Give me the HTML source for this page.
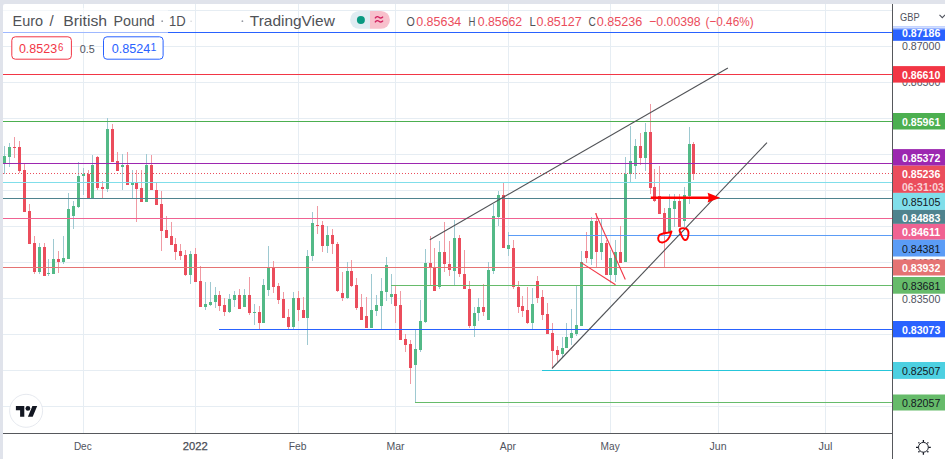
<!DOCTYPE html>
<html><head><meta charset="utf-8"><title>EURGBP</title>
<style>
html,body{margin:0;padding:0;background:#e0e3eb;}
body{width:945px;height:459px;overflow:hidden;position:relative;font-family:"Liberation Sans", sans-serif;}
svg{position:absolute;left:0;top:0;display:block;}
text{font-family:"Liberation Sans", sans-serif;}
</style></head><body>
<svg width="945" height="459" viewBox="0 0 945 459">
<defs>
<clipPath id="pane"><rect x="3" y="4" width="889" height="429"/></clipPath>
<linearGradient id="gbpfade" x1="0" y1="0" x2="0" y2="1">
<stop offset="0" stop-color="#fff" stop-opacity="1"/>
<stop offset="0.3" stop-color="#fff" stop-opacity="0.85"/>
<stop offset="1" stop-color="#fff" stop-opacity="0"/>
</linearGradient>
</defs>
<path d="M3 6 Q3 4 5 4 H945 V459 H3 Z" fill="#ffffff"/>

<g shape-rendering="crispEdges">
<rect x="3" y="10" width="889" height="1" fill="#e6edf3"/>
<rect x="3" y="46" width="889" height="1" fill="#e6edf3"/>
<rect x="3" y="82" width="889" height="1" fill="#e6edf3"/>
<rect x="3" y="118" width="889" height="1" fill="#e6edf3"/>
<rect x="3" y="154" width="889" height="1" fill="#e6edf3"/>
<rect x="3" y="190" width="889" height="1" fill="#e6edf3"/>
<rect x="3" y="226" width="889" height="1" fill="#e6edf3"/>
<rect x="3" y="262" width="889" height="1" fill="#e6edf3"/>
<rect x="3" y="298" width="889" height="1" fill="#e6edf3"/>
<rect x="3" y="334" width="889" height="1" fill="#e6edf3"/>
<rect x="3" y="370" width="889" height="1" fill="#e6edf3"/>
<rect x="3" y="406" width="889" height="1" fill="#e6edf3"/>
<rect x="83" y="4" width="1" height="429" fill="#e6edf3"/>
<rect x="195" y="4" width="1" height="429" fill="#e6edf3"/>
<rect x="298" y="4" width="1" height="429" fill="#e6edf3"/>
<rect x="395" y="4" width="1" height="429" fill="#e6edf3"/>
<rect x="508" y="4" width="1" height="429" fill="#e6edf3"/>
<rect x="610" y="4" width="1" height="429" fill="#e6edf3"/>
<rect x="718" y="4" width="1" height="429" fill="#e6edf3"/>
<rect x="825" y="4" width="1" height="429" fill="#e6edf3"/>
</g>
<g clip-path="url(#pane)" shape-rendering="crispEdges">
<rect x="4" y="146" width="1" height="10" fill="#9ec9d1"/>
<rect x="4" y="163" width="1" height="11" fill="#9ec9d1"/>
<rect x="3" y="156" width="3" height="7" fill="#53b987"/>
<rect x="9" y="143" width="1" height="4" fill="#9ec9d1"/>
<rect x="9" y="157" width="1" height="10" fill="#9ec9d1"/>
<rect x="8" y="147" width="3" height="10" fill="#53b987"/>
<rect x="14" y="137" width="1" height="10" fill="#f09aa3"/>
<rect x="14" y="148" width="1" height="10" fill="#f09aa3"/>
<rect x="13" y="147" width="3" height="1" fill="#eb4d5c"/>
<rect x="19" y="141" width="1" height="6" fill="#f09aa3"/>
<rect x="19" y="171" width="1" height="2" fill="#f09aa3"/>
<rect x="18" y="147" width="3" height="24" fill="#eb4d5c"/>
<rect x="24" y="164" width="1" height="6" fill="#f09aa3"/>
<rect x="23" y="170" width="3" height="42" fill="#eb4d5c"/>
<rect x="29" y="204" width="1" height="7" fill="#f09aa3"/>
<rect x="28" y="211" width="3" height="33" fill="#eb4d5c"/>
<rect x="34" y="236" width="1" height="7" fill="#f09aa3"/>
<rect x="34" y="272" width="1" height="2" fill="#f09aa3"/>
<rect x="33" y="243" width="3" height="29" fill="#eb4d5c"/>
<rect x="39" y="243" width="1" height="4" fill="#9ec9d1"/>
<rect x="39" y="272" width="1" height="2" fill="#9ec9d1"/>
<rect x="38" y="247" width="3" height="25" fill="#53b987"/>
<rect x="44" y="243" width="1" height="4" fill="#f09aa3"/>
<rect x="43" y="247" width="3" height="29" fill="#eb4d5c"/>
<rect x="48" y="259" width="1" height="14" fill="#9ec9d1"/>
<rect x="48" y="274" width="1" height="2" fill="#9ec9d1"/>
<rect x="47" y="273" width="3" height="1" fill="#53b987"/>
<rect x="53" y="239" width="1" height="20" fill="#9ec9d1"/>
<rect x="52" y="259" width="3" height="15" fill="#53b987"/>
<rect x="58" y="251" width="1" height="8" fill="#f09aa3"/>
<rect x="58" y="262" width="1" height="11" fill="#f09aa3"/>
<rect x="57" y="259" width="3" height="3" fill="#eb4d5c"/>
<rect x="63" y="236" width="1" height="22" fill="#9ec9d1"/>
<rect x="63" y="262" width="1" height="2" fill="#9ec9d1"/>
<rect x="62" y="258" width="3" height="4" fill="#53b987"/>
<rect x="68" y="193" width="1" height="16" fill="#9ec9d1"/>
<rect x="67" y="209" width="3" height="50" fill="#53b987"/>
<rect x="73" y="201" width="1" height="5" fill="#9ec9d1"/>
<rect x="73" y="216" width="1" height="13" fill="#9ec9d1"/>
<rect x="72" y="206" width="3" height="10" fill="#53b987"/>
<rect x="78" y="162" width="1" height="14" fill="#9ec9d1"/>
<rect x="78" y="207" width="1" height="1" fill="#9ec9d1"/>
<rect x="77" y="176" width="3" height="31" fill="#53b987"/>
<rect x="83" y="168" width="1" height="6" fill="#9ec9d1"/>
<rect x="83" y="176" width="1" height="19" fill="#9ec9d1"/>
<rect x="82" y="174" width="3" height="2" fill="#53b987"/>
<rect x="88" y="170" width="1" height="4" fill="#f09aa3"/>
<rect x="87" y="174" width="3" height="24" fill="#eb4d5c"/>
<rect x="92" y="155" width="1" height="10" fill="#9ec9d1"/>
<rect x="91" y="165" width="3" height="33" fill="#53b987"/>
<rect x="97" y="156" width="1" height="1" fill="#f09aa3"/>
<rect x="97" y="188" width="1" height="2" fill="#f09aa3"/>
<rect x="96" y="157" width="3" height="31" fill="#eb4d5c"/>
<rect x="102" y="181" width="1" height="6" fill="#f09aa3"/>
<rect x="102" y="189" width="1" height="9" fill="#f09aa3"/>
<rect x="101" y="187" width="3" height="2" fill="#eb4d5c"/>
<rect x="107" y="118" width="1" height="11" fill="#9ec9d1"/>
<rect x="107" y="189" width="1" height="3" fill="#9ec9d1"/>
<rect x="106" y="129" width="3" height="60" fill="#53b987"/>
<rect x="112" y="124" width="1" height="5" fill="#f09aa3"/>
<rect x="111" y="129" width="3" height="33" fill="#eb4d5c"/>
<rect x="117" y="152" width="1" height="9" fill="#f09aa3"/>
<rect x="116" y="161" width="3" height="10" fill="#eb4d5c"/>
<rect x="122" y="154" width="1" height="11" fill="#9ec9d1"/>
<rect x="122" y="167" width="1" height="23" fill="#9ec9d1"/>
<rect x="121" y="165" width="3" height="2" fill="#53b987"/>
<rect x="127" y="152" width="1" height="13" fill="#f09aa3"/>
<rect x="126" y="165" width="3" height="20" fill="#eb4d5c"/>
<rect x="132" y="170" width="1" height="13" fill="#9ec9d1"/>
<rect x="132" y="185" width="1" height="14" fill="#9ec9d1"/>
<rect x="131" y="183" width="3" height="2" fill="#53b987"/>
<rect x="136" y="170" width="1" height="13" fill="#f09aa3"/>
<rect x="136" y="189" width="1" height="33" fill="#f09aa3"/>
<rect x="135" y="183" width="3" height="6" fill="#eb4d5c"/>
<rect x="141" y="170" width="1" height="18" fill="#f09aa3"/>
<rect x="140" y="188" width="3" height="14" fill="#eb4d5c"/>
<rect x="146" y="154" width="1" height="11" fill="#9ec9d1"/>
<rect x="145" y="165" width="3" height="37" fill="#53b987"/>
<rect x="151" y="155" width="1" height="10" fill="#f09aa3"/>
<rect x="150" y="165" width="3" height="25" fill="#eb4d5c"/>
<rect x="156" y="183" width="1" height="7" fill="#f09aa3"/>
<rect x="155" y="190" width="3" height="15" fill="#eb4d5c"/>
<rect x="161" y="191" width="1" height="13" fill="#f09aa3"/>
<rect x="161" y="231" width="1" height="20" fill="#f09aa3"/>
<rect x="160" y="204" width="3" height="27" fill="#eb4d5c"/>
<rect x="166" y="216" width="1" height="14" fill="#f09aa3"/>
<rect x="165" y="230" width="3" height="8" fill="#eb4d5c"/>
<rect x="171" y="222" width="1" height="14" fill="#f09aa3"/>
<rect x="170" y="236" width="3" height="9" fill="#eb4d5c"/>
<rect x="175" y="238" width="1" height="6" fill="#f09aa3"/>
<rect x="175" y="252" width="1" height="8" fill="#f09aa3"/>
<rect x="174" y="244" width="3" height="8" fill="#eb4d5c"/>
<rect x="180" y="244" width="1" height="7" fill="#f09aa3"/>
<rect x="180" y="256" width="1" height="4" fill="#f09aa3"/>
<rect x="179" y="251" width="3" height="5" fill="#eb4d5c"/>
<rect x="185" y="250" width="1" height="5" fill="#f09aa3"/>
<rect x="185" y="275" width="1" height="1" fill="#f09aa3"/>
<rect x="184" y="255" width="3" height="20" fill="#eb4d5c"/>
<rect x="190" y="251" width="1" height="3" fill="#9ec9d1"/>
<rect x="190" y="275" width="1" height="9" fill="#9ec9d1"/>
<rect x="189" y="254" width="3" height="21" fill="#53b987"/>
<rect x="195" y="248" width="1" height="6" fill="#f09aa3"/>
<rect x="194" y="254" width="3" height="28" fill="#eb4d5c"/>
<rect x="200" y="266" width="1" height="15" fill="#f09aa3"/>
<rect x="199" y="281" width="3" height="26" fill="#eb4d5c"/>
<rect x="205" y="282" width="1" height="22" fill="#9ec9d1"/>
<rect x="205" y="307" width="1" height="3" fill="#9ec9d1"/>
<rect x="204" y="304" width="3" height="3" fill="#53b987"/>
<rect x="210" y="282" width="1" height="20" fill="#9ec9d1"/>
<rect x="210" y="305" width="1" height="1" fill="#9ec9d1"/>
<rect x="209" y="302" width="3" height="3" fill="#53b987"/>
<rect x="215" y="287" width="1" height="8" fill="#9ec9d1"/>
<rect x="215" y="302" width="1" height="6" fill="#9ec9d1"/>
<rect x="214" y="295" width="3" height="7" fill="#53b987"/>
<rect x="219" y="291" width="1" height="4" fill="#f09aa3"/>
<rect x="219" y="306" width="1" height="5" fill="#f09aa3"/>
<rect x="218" y="295" width="3" height="11" fill="#eb4d5c"/>
<rect x="224" y="298" width="1" height="7" fill="#f09aa3"/>
<rect x="224" y="312" width="1" height="4" fill="#f09aa3"/>
<rect x="223" y="305" width="3" height="7" fill="#eb4d5c"/>
<rect x="229" y="294" width="1" height="5" fill="#9ec9d1"/>
<rect x="229" y="312" width="1" height="1" fill="#9ec9d1"/>
<rect x="228" y="299" width="3" height="13" fill="#53b987"/>
<rect x="234" y="291" width="1" height="4" fill="#9ec9d1"/>
<rect x="234" y="300" width="1" height="7" fill="#9ec9d1"/>
<rect x="233" y="295" width="3" height="5" fill="#53b987"/>
<rect x="239" y="289" width="1" height="6" fill="#f09aa3"/>
<rect x="238" y="295" width="3" height="14" fill="#eb4d5c"/>
<rect x="244" y="289" width="1" height="6" fill="#9ec9d1"/>
<rect x="243" y="295" width="3" height="12" fill="#53b987"/>
<rect x="249" y="277" width="1" height="18" fill="#f09aa3"/>
<rect x="249" y="313" width="1" height="2" fill="#f09aa3"/>
<rect x="248" y="295" width="3" height="18" fill="#eb4d5c"/>
<rect x="254" y="304" width="1" height="8" fill="#9ec9d1"/>
<rect x="254" y="313" width="1" height="12" fill="#9ec9d1"/>
<rect x="253" y="312" width="3" height="1" fill="#53b987"/>
<rect x="259" y="306" width="1" height="6" fill="#f09aa3"/>
<rect x="259" y="323" width="1" height="6" fill="#f09aa3"/>
<rect x="258" y="312" width="3" height="11" fill="#eb4d5c"/>
<rect x="263" y="279" width="1" height="6" fill="#9ec9d1"/>
<rect x="262" y="285" width="3" height="38" fill="#53b987"/>
<rect x="268" y="246" width="1" height="21" fill="#9ec9d1"/>
<rect x="268" y="290" width="1" height="6" fill="#9ec9d1"/>
<rect x="267" y="267" width="3" height="23" fill="#53b987"/>
<rect x="273" y="261" width="1" height="7" fill="#f09aa3"/>
<rect x="273" y="287" width="1" height="6" fill="#f09aa3"/>
<rect x="272" y="268" width="3" height="19" fill="#eb4d5c"/>
<rect x="278" y="283" width="1" height="3" fill="#f09aa3"/>
<rect x="278" y="300" width="1" height="4" fill="#f09aa3"/>
<rect x="277" y="286" width="3" height="14" fill="#eb4d5c"/>
<rect x="283" y="292" width="1" height="7" fill="#f09aa3"/>
<rect x="282" y="299" width="3" height="19" fill="#eb4d5c"/>
<rect x="288" y="309" width="1" height="8" fill="#f09aa3"/>
<rect x="288" y="327" width="1" height="2" fill="#f09aa3"/>
<rect x="287" y="317" width="3" height="10" fill="#eb4d5c"/>
<rect x="293" y="292" width="1" height="6" fill="#9ec9d1"/>
<rect x="293" y="327" width="1" height="2" fill="#9ec9d1"/>
<rect x="292" y="298" width="3" height="29" fill="#53b987"/>
<rect x="298" y="291" width="1" height="7" fill="#f09aa3"/>
<rect x="298" y="310" width="1" height="11" fill="#f09aa3"/>
<rect x="297" y="298" width="3" height="12" fill="#eb4d5c"/>
<rect x="303" y="297" width="1" height="13" fill="#f09aa3"/>
<rect x="302" y="310" width="3" height="8" fill="#eb4d5c"/>
<rect x="307" y="250" width="1" height="6" fill="#9ec9d1"/>
<rect x="307" y="318" width="1" height="27" fill="#9ec9d1"/>
<rect x="306" y="256" width="3" height="62" fill="#53b987"/>
<rect x="312" y="212" width="1" height="11" fill="#9ec9d1"/>
<rect x="312" y="256" width="1" height="5" fill="#9ec9d1"/>
<rect x="311" y="223" width="3" height="33" fill="#53b987"/>
<rect x="317" y="206" width="1" height="19" fill="#f09aa3"/>
<rect x="317" y="226" width="1" height="8" fill="#f09aa3"/>
<rect x="316" y="225" width="3" height="1" fill="#eb4d5c"/>
<rect x="322" y="221" width="1" height="4" fill="#f09aa3"/>
<rect x="322" y="246" width="1" height="6" fill="#f09aa3"/>
<rect x="321" y="225" width="3" height="21" fill="#eb4d5c"/>
<rect x="327" y="226" width="1" height="9" fill="#9ec9d1"/>
<rect x="327" y="246" width="1" height="7" fill="#9ec9d1"/>
<rect x="326" y="235" width="3" height="11" fill="#53b987"/>
<rect x="332" y="229" width="1" height="6" fill="#f09aa3"/>
<rect x="332" y="244" width="1" height="10" fill="#f09aa3"/>
<rect x="331" y="235" width="3" height="9" fill="#eb4d5c"/>
<rect x="337" y="242" width="1" height="2" fill="#f09aa3"/>
<rect x="337" y="291" width="1" height="1" fill="#f09aa3"/>
<rect x="336" y="244" width="3" height="47" fill="#eb4d5c"/>
<rect x="342" y="272" width="1" height="21" fill="#f09aa3"/>
<rect x="342" y="298" width="1" height="3" fill="#f09aa3"/>
<rect x="341" y="293" width="3" height="5" fill="#eb4d5c"/>
<rect x="347" y="262" width="1" height="9" fill="#9ec9d1"/>
<rect x="347" y="298" width="1" height="1" fill="#9ec9d1"/>
<rect x="346" y="271" width="3" height="27" fill="#53b987"/>
<rect x="351" y="260" width="1" height="11" fill="#f09aa3"/>
<rect x="351" y="286" width="1" height="1" fill="#f09aa3"/>
<rect x="350" y="271" width="3" height="15" fill="#eb4d5c"/>
<rect x="356" y="278" width="1" height="7" fill="#f09aa3"/>
<rect x="356" y="308" width="1" height="2" fill="#f09aa3"/>
<rect x="355" y="285" width="3" height="23" fill="#eb4d5c"/>
<rect x="361" y="294" width="1" height="13" fill="#f09aa3"/>
<rect x="360" y="307" width="3" height="13" fill="#eb4d5c"/>
<rect x="366" y="297" width="1" height="19" fill="#f09aa3"/>
<rect x="365" y="316" width="3" height="12" fill="#eb4d5c"/>
<rect x="371" y="274" width="1" height="36" fill="#9ec9d1"/>
<rect x="370" y="310" width="3" height="18" fill="#53b987"/>
<rect x="376" y="295" width="1" height="10" fill="#9ec9d1"/>
<rect x="376" y="311" width="1" height="5" fill="#9ec9d1"/>
<rect x="375" y="305" width="3" height="6" fill="#53b987"/>
<rect x="381" y="278" width="1" height="13" fill="#9ec9d1"/>
<rect x="381" y="306" width="1" height="24" fill="#9ec9d1"/>
<rect x="380" y="291" width="3" height="15" fill="#53b987"/>
<rect x="386" y="257" width="1" height="8" fill="#9ec9d1"/>
<rect x="386" y="292" width="1" height="9" fill="#9ec9d1"/>
<rect x="385" y="265" width="3" height="27" fill="#53b987"/>
<rect x="391" y="274" width="1" height="20" fill="#9ec9d1"/>
<rect x="391" y="297" width="1" height="7" fill="#9ec9d1"/>
<rect x="390" y="294" width="3" height="3" fill="#53b987"/>
<rect x="395" y="286" width="1" height="8" fill="#f09aa3"/>
<rect x="395" y="306" width="1" height="17" fill="#f09aa3"/>
<rect x="394" y="294" width="3" height="12" fill="#eb4d5c"/>
<rect x="400" y="291" width="1" height="14" fill="#f09aa3"/>
<rect x="399" y="305" width="3" height="35" fill="#eb4d5c"/>
<rect x="405" y="334" width="1" height="5" fill="#f09aa3"/>
<rect x="405" y="345" width="1" height="7" fill="#f09aa3"/>
<rect x="404" y="339" width="3" height="6" fill="#eb4d5c"/>
<rect x="410" y="340" width="1" height="4" fill="#f09aa3"/>
<rect x="410" y="368" width="1" height="16" fill="#f09aa3"/>
<rect x="409" y="344" width="3" height="24" fill="#eb4d5c"/>
<rect x="415" y="330" width="1" height="19" fill="#9ec9d1"/>
<rect x="415" y="365" width="1" height="37" fill="#9ec9d1"/>
<rect x="414" y="349" width="3" height="16" fill="#53b987"/>
<rect x="420" y="300" width="1" height="21" fill="#9ec9d1"/>
<rect x="420" y="350" width="1" height="2" fill="#9ec9d1"/>
<rect x="419" y="321" width="3" height="29" fill="#53b987"/>
<rect x="425" y="249" width="1" height="14" fill="#9ec9d1"/>
<rect x="425" y="322" width="1" height="1" fill="#9ec9d1"/>
<rect x="424" y="263" width="3" height="59" fill="#53b987"/>
<rect x="430" y="236" width="1" height="27" fill="#f09aa3"/>
<rect x="430" y="268" width="1" height="17" fill="#f09aa3"/>
<rect x="429" y="263" width="3" height="5" fill="#eb4d5c"/>
<rect x="434" y="248" width="1" height="19" fill="#f09aa3"/>
<rect x="433" y="267" width="3" height="24" fill="#eb4d5c"/>
<rect x="439" y="241" width="1" height="11" fill="#9ec9d1"/>
<rect x="439" y="287" width="1" height="2" fill="#9ec9d1"/>
<rect x="438" y="252" width="3" height="35" fill="#53b987"/>
<rect x="444" y="222" width="1" height="30" fill="#f09aa3"/>
<rect x="444" y="264" width="1" height="8" fill="#f09aa3"/>
<rect x="443" y="252" width="3" height="12" fill="#eb4d5c"/>
<rect x="449" y="241" width="1" height="23" fill="#f09aa3"/>
<rect x="449" y="270" width="1" height="6" fill="#f09aa3"/>
<rect x="448" y="264" width="3" height="6" fill="#eb4d5c"/>
<rect x="454" y="220" width="1" height="18" fill="#9ec9d1"/>
<rect x="454" y="271" width="1" height="14" fill="#9ec9d1"/>
<rect x="453" y="238" width="3" height="33" fill="#53b987"/>
<rect x="459" y="235" width="1" height="3" fill="#f09aa3"/>
<rect x="459" y="274" width="1" height="3" fill="#f09aa3"/>
<rect x="458" y="238" width="3" height="36" fill="#eb4d5c"/>
<rect x="464" y="250" width="1" height="24" fill="#f09aa3"/>
<rect x="463" y="274" width="3" height="15" fill="#eb4d5c"/>
<rect x="469" y="281" width="1" height="8" fill="#f09aa3"/>
<rect x="469" y="326" width="1" height="2" fill="#f09aa3"/>
<rect x="468" y="289" width="3" height="37" fill="#eb4d5c"/>
<rect x="474" y="307" width="1" height="6" fill="#9ec9d1"/>
<rect x="474" y="326" width="1" height="11" fill="#9ec9d1"/>
<rect x="473" y="313" width="3" height="13" fill="#53b987"/>
<rect x="478" y="298" width="1" height="9" fill="#9ec9d1"/>
<rect x="478" y="313" width="1" height="8" fill="#9ec9d1"/>
<rect x="477" y="307" width="3" height="6" fill="#53b987"/>
<rect x="483" y="284" width="1" height="23" fill="#f09aa3"/>
<rect x="483" y="312" width="1" height="4" fill="#f09aa3"/>
<rect x="482" y="307" width="3" height="5" fill="#eb4d5c"/>
<rect x="488" y="262" width="1" height="8" fill="#9ec9d1"/>
<rect x="487" y="270" width="3" height="50" fill="#53b987"/>
<rect x="493" y="204" width="1" height="12" fill="#9ec9d1"/>
<rect x="493" y="271" width="1" height="3" fill="#9ec9d1"/>
<rect x="492" y="216" width="3" height="55" fill="#53b987"/>
<rect x="498" y="191" width="1" height="4" fill="#9ec9d1"/>
<rect x="498" y="217" width="1" height="9" fill="#9ec9d1"/>
<rect x="497" y="195" width="3" height="22" fill="#53b987"/>
<rect x="503" y="182" width="1" height="13" fill="#f09aa3"/>
<rect x="502" y="195" width="3" height="53" fill="#eb4d5c"/>
<rect x="508" y="232" width="1" height="13" fill="#9ec9d1"/>
<rect x="508" y="249" width="1" height="7" fill="#9ec9d1"/>
<rect x="507" y="245" width="3" height="4" fill="#53b987"/>
<rect x="513" y="240" width="1" height="8" fill="#f09aa3"/>
<rect x="513" y="287" width="1" height="2" fill="#f09aa3"/>
<rect x="512" y="248" width="3" height="39" fill="#eb4d5c"/>
<rect x="518" y="281" width="1" height="6" fill="#f09aa3"/>
<rect x="518" y="307" width="1" height="6" fill="#f09aa3"/>
<rect x="517" y="287" width="3" height="20" fill="#eb4d5c"/>
<rect x="522" y="296" width="1" height="10" fill="#f09aa3"/>
<rect x="522" y="311" width="1" height="6" fill="#f09aa3"/>
<rect x="521" y="306" width="3" height="5" fill="#eb4d5c"/>
<rect x="527" y="287" width="1" height="23" fill="#f09aa3"/>
<rect x="527" y="323" width="1" height="1" fill="#f09aa3"/>
<rect x="526" y="310" width="3" height="13" fill="#eb4d5c"/>
<rect x="532" y="288" width="1" height="16" fill="#9ec9d1"/>
<rect x="532" y="323" width="1" height="6" fill="#9ec9d1"/>
<rect x="531" y="304" width="3" height="19" fill="#53b987"/>
<rect x="537" y="276" width="1" height="5" fill="#f09aa3"/>
<rect x="537" y="298" width="1" height="5" fill="#f09aa3"/>
<rect x="536" y="281" width="3" height="17" fill="#eb4d5c"/>
<rect x="542" y="290" width="1" height="7" fill="#f09aa3"/>
<rect x="542" y="315" width="1" height="5" fill="#f09aa3"/>
<rect x="541" y="297" width="3" height="18" fill="#eb4d5c"/>
<rect x="547" y="303" width="1" height="11" fill="#f09aa3"/>
<rect x="546" y="314" width="3" height="20" fill="#eb4d5c"/>
<rect x="552" y="323" width="1" height="10" fill="#f09aa3"/>
<rect x="552" y="351" width="1" height="17" fill="#f09aa3"/>
<rect x="551" y="333" width="3" height="18" fill="#eb4d5c"/>
<rect x="557" y="346" width="1" height="4" fill="#f09aa3"/>
<rect x="557" y="355" width="1" height="7" fill="#f09aa3"/>
<rect x="556" y="350" width="3" height="5" fill="#eb4d5c"/>
<rect x="562" y="337" width="1" height="11" fill="#9ec9d1"/>
<rect x="562" y="354" width="1" height="3" fill="#9ec9d1"/>
<rect x="561" y="348" width="3" height="6" fill="#53b987"/>
<rect x="566" y="323" width="1" height="14" fill="#9ec9d1"/>
<rect x="565" y="337" width="3" height="11" fill="#53b987"/>
<rect x="571" y="309" width="1" height="24" fill="#9ec9d1"/>
<rect x="571" y="338" width="1" height="7" fill="#9ec9d1"/>
<rect x="570" y="333" width="3" height="5" fill="#53b987"/>
<rect x="576" y="285" width="1" height="40" fill="#9ec9d1"/>
<rect x="576" y="334" width="1" height="2" fill="#9ec9d1"/>
<rect x="575" y="325" width="3" height="9" fill="#53b987"/>
<rect x="581" y="251" width="1" height="11" fill="#9ec9d1"/>
<rect x="580" y="262" width="3" height="64" fill="#53b987"/>
<rect x="586" y="232" width="1" height="19" fill="#f09aa3"/>
<rect x="586" y="258" width="1" height="5" fill="#f09aa3"/>
<rect x="585" y="251" width="3" height="7" fill="#eb4d5c"/>
<rect x="591" y="217" width="1" height="4" fill="#9ec9d1"/>
<rect x="591" y="259" width="1" height="6" fill="#9ec9d1"/>
<rect x="590" y="221" width="3" height="38" fill="#53b987"/>
<rect x="596" y="213" width="1" height="8" fill="#f09aa3"/>
<rect x="596" y="252" width="1" height="16" fill="#f09aa3"/>
<rect x="595" y="221" width="3" height="31" fill="#eb4d5c"/>
<rect x="601" y="219" width="1" height="24" fill="#9ec9d1"/>
<rect x="601" y="252" width="1" height="8" fill="#9ec9d1"/>
<rect x="600" y="243" width="3" height="9" fill="#53b987"/>
<rect x="606" y="240" width="1" height="3" fill="#f09aa3"/>
<rect x="605" y="243" width="3" height="32" fill="#eb4d5c"/>
<rect x="610" y="250" width="1" height="8" fill="#9ec9d1"/>
<rect x="610" y="275" width="1" height="8" fill="#9ec9d1"/>
<rect x="609" y="258" width="3" height="17" fill="#53b987"/>
<rect x="615" y="240" width="1" height="12" fill="#9ec9d1"/>
<rect x="615" y="275" width="1" height="7" fill="#9ec9d1"/>
<rect x="614" y="252" width="3" height="23" fill="#53b987"/>
<rect x="620" y="226" width="1" height="26" fill="#f09aa3"/>
<rect x="619" y="252" width="3" height="11" fill="#eb4d5c"/>
<rect x="625" y="157" width="1" height="17" fill="#9ec9d1"/>
<rect x="624" y="174" width="3" height="88" fill="#53b987"/>
<rect x="630" y="126" width="1" height="35" fill="#9ec9d1"/>
<rect x="630" y="174" width="1" height="8" fill="#9ec9d1"/>
<rect x="629" y="161" width="3" height="13" fill="#53b987"/>
<rect x="635" y="139" width="1" height="7" fill="#9ec9d1"/>
<rect x="635" y="166" width="1" height="13" fill="#9ec9d1"/>
<rect x="634" y="146" width="3" height="20" fill="#53b987"/>
<rect x="640" y="133" width="1" height="13" fill="#f09aa3"/>
<rect x="640" y="158" width="1" height="7" fill="#f09aa3"/>
<rect x="639" y="146" width="3" height="12" fill="#eb4d5c"/>
<rect x="645" y="123" width="1" height="9" fill="#9ec9d1"/>
<rect x="645" y="158" width="1" height="13" fill="#9ec9d1"/>
<rect x="644" y="132" width="3" height="26" fill="#53b987"/>
<rect x="650" y="104" width="1" height="28" fill="#f09aa3"/>
<rect x="650" y="188" width="1" height="6" fill="#f09aa3"/>
<rect x="649" y="132" width="3" height="56" fill="#eb4d5c"/>
<rect x="654" y="169" width="1" height="18" fill="#f09aa3"/>
<rect x="654" y="201" width="1" height="1" fill="#f09aa3"/>
<rect x="653" y="187" width="3" height="14" fill="#eb4d5c"/>
<rect x="659" y="166" width="1" height="30" fill="#f09aa3"/>
<rect x="658" y="196" width="3" height="18" fill="#eb4d5c"/>
<rect x="664" y="208" width="1" height="5" fill="#f09aa3"/>
<rect x="664" y="234" width="1" height="33" fill="#f09aa3"/>
<rect x="663" y="213" width="3" height="21" fill="#eb4d5c"/>
<rect x="669" y="194" width="1" height="14" fill="#9ec9d1"/>
<rect x="668" y="208" width="3" height="25" fill="#53b987"/>
<rect x="674" y="194" width="1" height="7" fill="#9ec9d1"/>
<rect x="674" y="209" width="1" height="18" fill="#9ec9d1"/>
<rect x="673" y="201" width="3" height="8" fill="#53b987"/>
<rect x="679" y="194" width="1" height="7" fill="#f09aa3"/>
<rect x="678" y="201" width="3" height="26" fill="#eb4d5c"/>
<rect x="684" y="187" width="1" height="8" fill="#9ec9d1"/>
<rect x="684" y="221" width="1" height="6" fill="#9ec9d1"/>
<rect x="683" y="195" width="3" height="26" fill="#53b987"/>
<rect x="689" y="127" width="1" height="17" fill="#9ec9d1"/>
<rect x="689" y="196" width="1" height="8" fill="#9ec9d1"/>
<rect x="688" y="144" width="3" height="52" fill="#53b987"/>
<rect x="693" y="142" width="1" height="2" fill="#f09aa3"/>
<rect x="693" y="174" width="1" height="6" fill="#f09aa3"/>
<rect x="692" y="144" width="3" height="30" fill="#eb4d5c"/>
</g>
<g shape-rendering="crispEdges">
<rect x="3" y="32" width="889" height="1" fill="#2962ff"/>
<rect x="3" y="74" width="889" height="1" fill="#f23645"/>
<rect x="3" y="121" width="889" height="1" fill="#4caf50"/>
<rect x="3" y="163" width="889" height="1" fill="#9c27b0"/>
<rect x="3" y="182" width="889" height="1" fill="#80deea"/>
<rect x="3" y="198" width="889" height="1" fill="#4f838e"/>
<rect x="3" y="218" width="889" height="1" fill="#f06292"/>
<rect x="508" y="235" width="384" height="1" fill="#5b9cf6"/>
<rect x="3" y="267" width="889" height="1" fill="#e57373"/>
<rect x="391" y="285" width="501" height="1" fill="#66bb6a"/>
<rect x="219" y="329" width="673" height="1" fill="#2962ff"/>
<rect x="542" y="370" width="350" height="1" fill="#26c6da"/>
<rect x="415" y="402" width="477" height="1" fill="#66bb6a"/>
<line x1="3" y1="173.5" x2="892" y2="173.5" stroke="#eb4d5c" stroke-width="1" stroke-dasharray="1 2"/>
</g>
<g clip-path="url(#pane)">
<line x1="429.8" y1="239.7" x2="727.9" y2="67.9" stroke="#505256" stroke-width="1.1"/>
<line x1="552" y1="368.5" x2="767" y2="142.6" stroke="#505256" stroke-width="1.1"/>
<line x1="595.5" y1="213.3" x2="625.3" y2="279.4" stroke="#f23645" stroke-width="1.1"/>
<line x1="580.8" y1="262.4" x2="615.5" y2="284.7" stroke="#f23645" stroke-width="1.1"/>
<line x1="650.8" y1="197.8" x2="710" y2="197.8" stroke="#ff0000" stroke-width="2.5"/>
<path d="M707.6 192.7 Q709.5 197.8 707.6 202.6 L720.2 197.8 Z" fill="#ff0000"/>
<path d="M671.5 231.5 C669 233.5, 661 232.5, 659 235.5 C657 239, 658.5 242.8, 662.5 242.5 C667 242, 670 237, 671.5 231.5" fill="none" stroke="#ff0000" stroke-width="1.9" stroke-linecap="round"/>
<path d="M681 228.5 C684 227.5, 688.5 228.5, 688.5 233 C688.5 237.5, 687 240.5, 685 240 C682.5 239.5, 681.5 235, 679.8 231.5 C679.2 230, 679.8 228.8, 681 228.5" fill="none" stroke="#ff0000" stroke-width="1.9" stroke-linecap="round"/>
</g>
<g shape-rendering="crispEdges">
<rect x="3" y="433" width="889" height="1" fill="#56585c"/>
<rect x="892" y="4" width="1" height="455" fill="#56585c"/>
</g>
<circle cx="26.1" cy="410.8" r="16.5" fill="#fff" stroke="#e0e3eb" stroke-width="0.8"/>
<g transform="translate(15.9 403.6) scale(0.6)" fill="#131722"><path d="M14 22H7V11H0V4h14v18zM28 22h-8l7.5-18h8L28 22z"/><circle cx="20" cy="8" r="4"/></g>
<text x="902" y="50.0" font-size="10.8" fill="#50535e" font-weight="normal" textLength="38.3" lengthAdjust="spacingAndGlyphs">0.87000</text>
<text x="902" y="86.4" font-size="10.8" fill="#50535e" font-weight="normal" textLength="38.3" lengthAdjust="spacingAndGlyphs">0.86500</text>
<text x="902" y="266.7" font-size="10.8" fill="#50535e" font-weight="normal" textLength="38.3" lengthAdjust="spacingAndGlyphs">0.84000</text>
<text x="902" y="302.8" font-size="10.8" fill="#50535e" font-weight="normal" textLength="38.3" lengthAdjust="spacingAndGlyphs">0.83500</text>
<rect x="893" y="24.2" width="52" height="16.6" fill="#2962ff"/>
<text x="902" y="37.1" font-size="10.8" fill="#fff" font-weight="bold" textLength="38.3" lengthAdjust="spacingAndGlyphs">0.87186</text>
<rect x="893" y="66.1" width="52" height="16.5" fill="#f23645"/>
<text x="902" y="78.9" font-size="10.8" fill="#fff" font-weight="bold" textLength="38.3" lengthAdjust="spacingAndGlyphs">0.86610</text>
<rect x="893" y="113" width="52" height="16.5" fill="#4caf50"/>
<text x="902" y="125.8" font-size="10.8" fill="#fff" font-weight="bold" textLength="38.3" lengthAdjust="spacingAndGlyphs">0.85961</text>
<rect x="893" y="149.1" width="52" height="16.6" fill="#9c27b0"/>
<text x="902" y="162.0" font-size="10.8" fill="#fff" font-weight="bold" textLength="38.3" lengthAdjust="spacingAndGlyphs">0.85372</text>
<rect x="893" y="165.7" width="52" height="27.2" fill="#eb4d5c"/>
<rect x="893" y="192.9" width="52" height="17.0" fill="#80deea"/>
<text x="902" y="206.0" font-size="10.8" fill="#131722" font-weight="normal" textLength="38.3" lengthAdjust="spacingAndGlyphs">0.85105</text>
<rect x="893" y="209.9" width="52" height="14.0" fill="#4f838e"/>
<text x="902" y="221.5" font-size="10.8" fill="#fff" font-weight="bold" textLength="38.3" lengthAdjust="spacingAndGlyphs">0.84883</text>
<rect x="893" y="223.9" width="52" height="15.8" fill="#f06292"/>
<text x="902" y="236.4" font-size="10.8" fill="#fff" font-weight="bold" textLength="38.3" lengthAdjust="spacingAndGlyphs">0.84611</text>
<rect x="893" y="239.7" width="52" height="16.8" fill="#5b9cf6"/>
<text x="902" y="252.7" font-size="10.8" fill="#131722" font-weight="normal" textLength="38.3" lengthAdjust="spacingAndGlyphs">0.84381</text>
<rect x="893" y="259.5" width="52" height="16.0" fill="#e57373"/>
<text x="902" y="272.1" font-size="10.8" fill="#fff" font-weight="bold" textLength="38.3" lengthAdjust="spacingAndGlyphs">0.83932</text>
<rect x="893" y="277" width="52" height="16.7" fill="#66bb6a"/>
<text x="902" y="290.0" font-size="10.8" fill="#131722" font-weight="normal" textLength="38.3" lengthAdjust="spacingAndGlyphs">0.83681</text>
<rect x="893" y="321" width="52" height="16.3" fill="#2962ff"/>
<text x="902" y="333.8" font-size="10.8" fill="#fff" font-weight="bold" textLength="38.3" lengthAdjust="spacingAndGlyphs">0.83073</text>
<rect x="893" y="362" width="52" height="16.9" fill="#4dd0e1"/>
<text x="902" y="375.1" font-size="10.8" fill="#131722" font-weight="normal" textLength="38.3" lengthAdjust="spacingAndGlyphs">0.82507</text>
<rect x="893" y="394.5" width="52" height="16.0" fill="#66bb6a"/>
<text x="902" y="407.1" font-size="10.8" fill="#131722" font-weight="normal" textLength="38.3" lengthAdjust="spacingAndGlyphs">0.82057</text>
<text x="902" y="177.8" font-size="10.8" fill="#fff" font-weight="bold" textLength="38.3" lengthAdjust="spacingAndGlyphs">0.85236</text>
<text x="902" y="190.6" font-size="10.8" fill="rgba(255,255,255,0.75)" font-weight="bold" textLength="41.8" lengthAdjust="spacingAndGlyphs">06:31:03</text>
<rect x="893" y="4" width="52" height="22.5" fill="#fff"/>
<rect x="893" y="26.5" width="52" height="4" fill="url(#gbpfade)" opacity="0.9"/>
<text x="900" y="21" font-size="11" fill="#50535e" textLength="19.6" lengthAdjust="spacingAndGlyphs">GBP</text>
<path d="M939.5 14.8 L942.3 17.6 L945.1 14.8" fill="none" stroke="#50535e" stroke-width="1.1"/>
<text x="73.9" y="450.3" font-size="11" fill="#50535e" textLength="17.8" lengthAdjust="spacingAndGlyphs">Dec</text>
<text x="182.8" y="450.3" font-size="11" fill="#50535e" textLength="24.9" lengthAdjust="spacingAndGlyphs" stroke="#3c3e46" stroke-width="0.25">2022</text>
<text x="288.7" y="450.3" font-size="11" fill="#50535e" textLength="17.8" lengthAdjust="spacingAndGlyphs">Feb</text>
<text x="386.4" y="450.3" font-size="11" fill="#50535e" textLength="18.1" lengthAdjust="spacingAndGlyphs">Mar</text>
<text x="499.8" y="450.3" font-size="11" fill="#50535e" textLength="16.2" lengthAdjust="spacingAndGlyphs">Apr</text>
<text x="600.6" y="450.3" font-size="11" fill="#50535e" textLength="19.1" lengthAdjust="spacingAndGlyphs">May</text>
<text x="709.6" y="450.3" font-size="11" fill="#50535e" textLength="17.0" lengthAdjust="spacingAndGlyphs">Jun</text>
<text x="818.5" y="450.3" font-size="11" fill="#50535e" textLength="13.9" lengthAdjust="spacingAndGlyphs">Jul</text>
<circle cx="923.4" cy="447.3" r="4.9" fill="none" stroke="#131722" stroke-width="0.95"/>
<path d="M928.40 447.30 L930.80 447.30 M927.36 451.26 L928.35 452.25 M923.40 452.30 L923.40 454.70 M919.44 451.26 L918.45 452.25 M918.40 447.30 L916.00 447.30 M919.44 443.34 L918.45 442.35 M923.40 442.30 L923.40 439.90 M927.36 443.34 L928.35 442.35" stroke="#131722" stroke-width="1.3"/>
<rect x="3" y="8" width="165" height="25" fill="#fff" opacity="0.55"/>
<text x="12.6" y="25.8" font-size="15" fill="#505257" textLength="30.5" lengthAdjust="spacingAndGlyphs">Euro</text>
<text x="49.6" y="25.8" font-size="15" fill="#505257">/</text>
<text x="63.3" y="25.8" font-size="15" fill="#505257" textLength="43.8" lengthAdjust="spacingAndGlyphs">British</text>
<text x="113.6" y="25.8" font-size="15" fill="#505257" textLength="41.2" lengthAdjust="spacingAndGlyphs">Pound</text>
<circle cx="162.2" cy="21.2" r="0.9" fill="#9598a1"/>
<text x="168.9" y="25.8" font-size="15" fill="#505257" textLength="16.7" lengthAdjust="spacingAndGlyphs">1D</text>
<circle cx="191.1" cy="21.2" r="0.8" fill="#d0d2d6"/>
<circle cx="242.4" cy="21.2" r="0.9" fill="#9598a1"/>
<text x="249.8" y="25.8" font-size="15" fill="#505257" textLength="85.0" lengthAdjust="spacingAndGlyphs">TradingView</text>
<path d="M359 11 H370 V28.8 H359 A8.9 8.9 0 0 1 359 11 Z" fill="#e0ecf2"/>
<path d="M370 11 H381 A8.9 8.9 0 0 1 381 28.8 H370 Z" fill="#f8c0cc"/>
<circle cx="360.9" cy="19.9" r="4" fill="#089981"/>
<path d="M375 18.3 C 376.5 16, 378 16.5, 379 17.3 C 380 18.1, 381.5 18.6, 383 16.6 M375 22.3 C 376.5 20, 378 20.5, 379 21.3 C 380 22.1, 381.5 22.6, 383 20.6" fill="none" stroke="#d1205f" stroke-width="1.4"/>
<text x="406.6" y="26" font-size="13" fill="#505257" textLength="8.3" lengthAdjust="spacingAndGlyphs">O</text>
<text x="416.2" y="26" font-size="13" fill="#eb4d5c" textLength="45.1" lengthAdjust="spacingAndGlyphs">0.85634</text>
<text x="468.5" y="26" font-size="13" fill="#505257" textLength="6.9" lengthAdjust="spacingAndGlyphs">H</text>
<text x="477.8" y="26" font-size="13" fill="#eb4d5c" textLength="44.4" lengthAdjust="spacingAndGlyphs">0.85662</text>
<text x="529.6" y="26" font-size="13" fill="#505257" textLength="6.3" lengthAdjust="spacingAndGlyphs">L</text>
<text x="536.5" y="26" font-size="13" fill="#eb4d5c" textLength="45.1" lengthAdjust="spacingAndGlyphs">0.85127</text>
<text x="588.6" y="26" font-size="13" fill="#505257" textLength="7.3" lengthAdjust="spacingAndGlyphs">C</text>
<text x="596.8" y="26" font-size="13" fill="#eb4d5c" textLength="45.6" lengthAdjust="spacingAndGlyphs">0.85236</text>
<text x="649.2" y="26" font-size="13" fill="#eb4d5c" textLength="51.5" lengthAdjust="spacingAndGlyphs">−0.00398</text>
<text x="705.5" y="26" font-size="13" fill="#eb4d5c" textLength="48.1" lengthAdjust="spacingAndGlyphs">(−0.46%)</text>
<rect x="11.8" y="36.8" width="59.6" height="22.4" rx="3.5" fill="#fff" stroke="#f23645" stroke-width="1"/>
<text x="18.9" y="52.9" font-size="12.5" fill="#f23645" textLength="38.2" lengthAdjust="spacingAndGlyphs">0.8523</text>
<text x="57.9" y="50.8" font-size="10.6" fill="#f23645" textLength="5.4" lengthAdjust="spacingAndGlyphs">6</text>
<text x="79.8" y="52.6" font-size="11.5" fill="#50535e" textLength="15" lengthAdjust="spacingAndGlyphs">0.5</text>
<rect x="103.5" y="36.8" width="59.6" height="22.4" rx="3.5" fill="#fff" stroke="#2962ff" stroke-width="1"/>
<text x="111.7" y="52.9" font-size="12.5" fill="#2962ff" textLength="38.6" lengthAdjust="spacingAndGlyphs">0.8524</text>
<text x="150.4" y="50.8" font-size="10.6" fill="#2962ff">1</text>
</svg>
</body></html>
